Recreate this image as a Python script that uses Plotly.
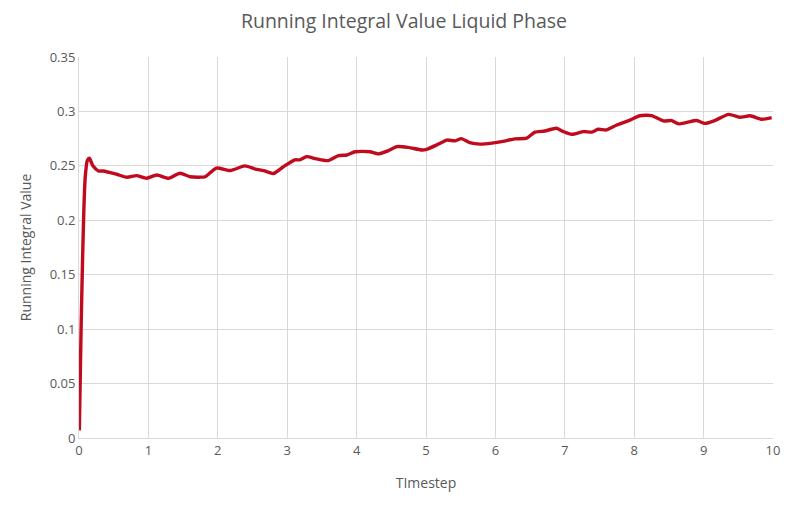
import plotly.graph_objects as go

timestep = [0.005, 0.03, 0.05, 0.07, 0.09, 0.12, 0.15, 0.2, 0.28, 0.35, 0.54, 0.69, 0.83, 0.975,
            1.12, 1.29, 1.455, 1.6, 1.74, 1.82, 1.98, 2.18, 2.39, 2.54, 2.66, 2.8, 2.94,
            3.11, 3.18, 3.28, 3.42, 3.59, 3.74, 3.86, 3.98, 4.19, 4.31, 4.46, 4.58, 4.74,
            4.94, 5.01, 5.15, 5.3, 5.42, 5.51, 5.63, 5.78, 5.95, 6.11, 6.28, 6.45, 6.57,
            6.71, 6.88, 6.98, 7.1, 7.27, 7.39, 7.48, 7.6, 7.75, 7.94, 8.08, 8.25, 8.42,
            8.54, 8.64, 8.76, 8.9, 9.02, 9.16, 9.36, 9.52, 9.67, 9.84, 9.98]
value = [0.007, 0.10, 0.16, 0.21, 0.24, 0.255, 0.257, 0.25, 0.2453, 0.2453, 0.2423, 0.2395, 0.241, 0.2386,
         0.2416, 0.2386, 0.2432, 0.240, 0.2396, 0.240, 0.248, 0.2457, 0.250, 0.247, 0.2457, 0.243, 0.249,
         0.2555, 0.2555, 0.2585, 0.2564, 0.2548, 0.2594, 0.260, 0.263, 0.263, 0.261, 0.264, 0.2677, 0.267,
         0.2646, 0.2652, 0.269, 0.2737, 0.273, 0.275, 0.2713, 0.270, 0.2709, 0.2725, 0.2748, 0.2754, 0.281,
         0.282, 0.2845, 0.2815, 0.279, 0.2815, 0.281, 0.2836, 0.283, 0.2875, 0.292, 0.296, 0.2962, 0.2913,
         0.2916, 0.2886, 0.290, 0.2916, 0.289, 0.2916, 0.2973, 0.2946, 0.296, 0.2928, 0.2943]

title_text = "Running Integral Value Liquid Phase"
x_title = "TImestep"
y_title = "Running Integral Value"

FONT = "Open Sans"
GREY = "#595959"
GRID = "#d9d9d9"

fig = go.Figure()
fig.add_trace(go.Scatter(
    x=timestep, y=value, mode="lines",
    line=dict(color="#C00A1E", width=3.4, shape="spline", smoothing=0.6),
    showlegend=False, hoverinfo="skip",
))

# page body has an 8px margin, so the figure is offset by (8, 8)
fig.update_layout(
    width=792, height=498,
    margin=dict(l=71, r=27, t=49, b=68),
    paper_bgcolor="white", plot_bgcolor="white",
    font=dict(family=FONT, color=GREY, size=13),
    title=dict(text=title_text, x=0.5, xanchor="center", y=0.974, yanchor="middle",
               font=dict(family=FONT, size=19.5, color=GREY)),
    xaxis=dict(
        range=[0, 10], tickmode="linear", tick0=0, dtick=1,
        showgrid=True, gridcolor=GRID, gridwidth=1,
        showline=True, linecolor=GRID, linewidth=1, mirror=False,
        zeroline=False, ticks="", ticklen=0,
        tickfont=dict(family=FONT, size=13, color=GREY),
        title=dict(text=x_title, font=dict(family=FONT, size=14, color=GREY), standoff=20),
    ),
    yaxis=dict(
        range=[0, 0.35], tickmode="linear", tick0=0, dtick=0.05,
        showgrid=True, gridcolor=GRID, gridwidth=1,
        showline=True, linecolor=GRID, linewidth=1,
        zeroline=False, ticks="", ticklen=0,
        tickfont=dict(family=FONT, size=13, color=GREY),
        title=dict(text=y_title, font=dict(family=FONT, size=14, color=GREY), standoff=14),
    ),
)

fig.write_html("out.html")
